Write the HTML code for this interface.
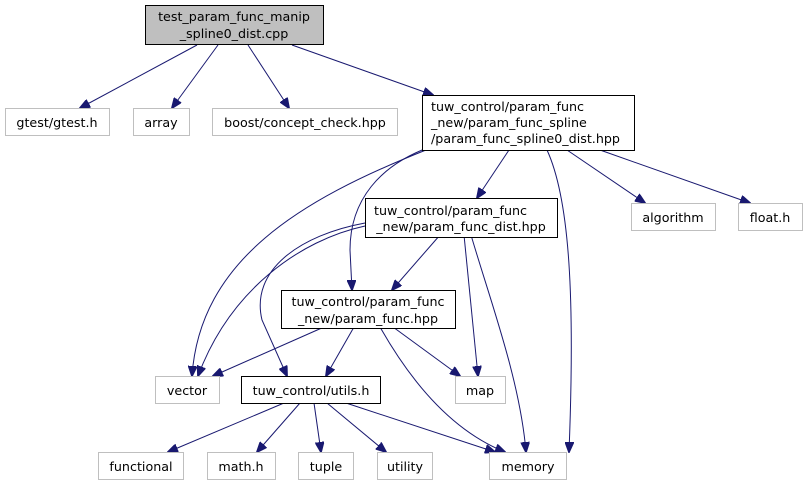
<!DOCTYPE html>
<html><head><style>
html,body{margin:0;padding:0;background:#fff;}
svg text{font-family:"DejaVu Sans","Liberation Sans",sans-serif;font-size:12.7px;fill:#000;text-anchor:middle;}
</style></head><body>
<svg width="807" height="484" viewBox="0 0 807 484" xmlns="http://www.w3.org/2000/svg">
<defs>
<marker id="a" markerWidth="11" markerHeight="9" refX="10" refY="4.5" orient="auto" markerUnits="userSpaceOnUse">
<path d="M0,0 L11,4.5 L0,9 Z" fill="#191970" stroke="#191970"/>
</marker>
</defs>
<g fill="none" stroke="#191970" stroke-width="1" marker-end="url(#a)">
<path d="M197,45 L80,108"/>
<path d="M218,45 L172,108"/>
<path d="M248,45 L289,108"/>
<path d="M292,45 L433,95"/>
<path d="M509,150 L477,198"/>
<path d="M426,150 C300,200 200,260 192,376"/>
<path d="M430,147 C380,165 350,200 350,250 L352,290"/>
<path d="M547,150 C570,200 575,300 569,452"/>
<path d="M567,150 L645,203"/>
<path d="M600,150 L750,203"/>
<path d="M365,226 C300,240 230,290 198,376"/>
<path d="M365,223 C300,235 250,270 262,320 L287,376"/>
<path d="M440,235 L392,290"/>
<path d="M464,235 L478,376"/>
<path d="M471,235 C490,300 520,380 526,452"/>
<path d="M324,327 L213,376"/>
<path d="M354,327 L326,376"/>
<path d="M393,327 L460,376"/>
<path d="M380,327 C410,380 450,430 505,452"/>
<path d="M284,403 L168,452"/>
<path d="M300,403 L257,452"/>
<path d="M314,403 L321,452"/>
<path d="M327,403 L386,452"/>
<path d="M346,403 L495,452"/>
</g>
<g stroke-width="1">
<rect x="145.5" y="5.5" width="178" height="39" fill="#bfbfbf" stroke="#000"/>
<rect x="5.5" y="108.5" width="104" height="27" fill="#fff" stroke="#bfbfbf"/>
<rect x="133.5" y="108.5" width="56" height="27" fill="#fff" stroke="#bfbfbf"/>
<rect x="212.5" y="108.5" width="185" height="27" fill="#fff" stroke="#bfbfbf"/>
<rect x="422.5" y="95.5" width="212" height="55" fill="#fff" stroke="#000"/>
<rect x="365.5" y="198.5" width="192" height="39" fill="#fff" stroke="#000"/>
<rect x="631.5" y="203.5" width="84" height="27" fill="#fff" stroke="#bfbfbf"/>
<rect x="738.5" y="203.5" width="64" height="27" fill="#fff" stroke="#bfbfbf"/>
<rect x="281.5" y="290.5" width="174" height="38" fill="#fff" stroke="#000"/>
<rect x="155.5" y="376.5" width="64" height="27" fill="#fff" stroke="#bfbfbf"/>
<rect x="241.5" y="376.5" width="139" height="27" fill="#fff" stroke="#000"/>
<rect x="455.5" y="376.5" width="50" height="27" fill="#fff" stroke="#bfbfbf"/>
<rect x="98.5" y="452.5" width="85" height="27" fill="#fff" stroke="#bfbfbf"/>
<rect x="207.5" y="452.5" width="68" height="27" fill="#fff" stroke="#bfbfbf"/>
<rect x="298.5" y="452.5" width="55" height="27" fill="#fff" stroke="#bfbfbf"/>
<rect x="377.5" y="452.5" width="55" height="27" fill="#fff" stroke="#bfbfbf"/>
<rect x="489.5" y="452.5" width="77" height="27" fill="#fff" stroke="#bfbfbf"/>
</g>
<text x="234" y="21">test_param_func_manip</text>
<text x="234" y="38">_spline0_dist.cpp</text>
<text x="57" y="127">gtest/gtest.h</text>
<text x="161" y="127">array</text>
<text x="305" y="127">boost/concept_check.hpp</text>
<text x="431" y="111" style="text-anchor:start">tuw_control/param_func</text>
<text x="431" y="127" style="text-anchor:start">_new/param_func_spline</text>
<text x="431" y="143" style="text-anchor:start">/param_func_spline0_dist.hpp</text>
<text x="374" y="215" style="text-anchor:start">tuw_control/param_func</text>
<text x="461" y="231">_new/param_func_dist.hpp</text>
<text x="673" y="222">algorithm</text>
<text x="770" y="222">float.h</text>
<text x="368" y="306">tuw_control/param_func</text>
<text x="368" y="323">_new/param_func.hpp</text>
<text x="187" y="395">vector</text>
<text x="311" y="395">tuw_control/utils.h</text>
<text x="480" y="395">map</text>
<text x="141" y="471">functional</text>
<text x="241" y="471">math.h</text>
<text x="326" y="471">tuple</text>
<text x="405" y="471">utility</text>
<text x="528" y="471">memory</text>
</svg>
</body></html>
